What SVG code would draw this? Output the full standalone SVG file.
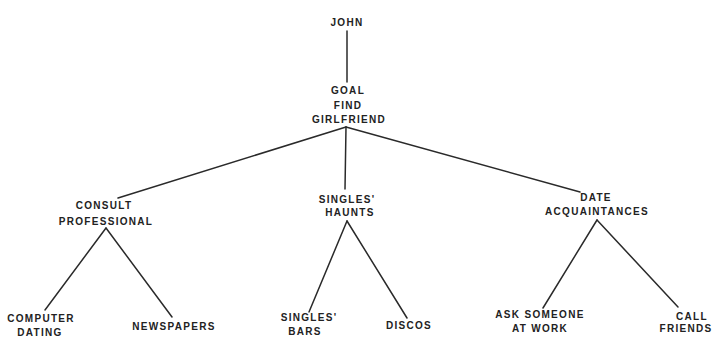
<svg xmlns="http://www.w3.org/2000/svg" width="712" height="338" viewBox="0 0 712 338">
<style>
text{font-family:"Liberation Sans",Arial,sans-serif;font-weight:bold;font-size:10px;fill:#222;text-anchor:middle;letter-spacing:1.3px}
.c line{stroke:#2a2a2a;stroke-width:1.5;stroke-linecap:round}
</style>
<rect width="712" height="338" fill="#fff"/>
<g class="c" id="connectors">
<line x1="347" y1="31" x2="347" y2="82"/>
<line x1="346" y1="127" x2="118" y2="198"/>
<line x1="346" y1="127" x2="345" y2="189"/>
<line x1="346" y1="127" x2="580" y2="192"/>
<line x1="106" y1="228" x2="45" y2="310"/>
<line x1="106" y1="228" x2="172" y2="317"/>
<line x1="347" y1="221" x2="309" y2="312"/>
<line x1="347" y1="221" x2="407" y2="318"/>
<line x1="597" y1="220" x2="543" y2="308"/>
<line x1="597" y1="220" x2="678" y2="307"/>
</g>
<g id="john"><text x="347" y="26">JOHN</text></g>
<g id="goal"><text x="348" y="94">GOAL</text><text x="348" y="109">FIND</text><text x="349" y="123">GIRLFRIEND</text></g>
<g id="consult"><text x="104" y="209">CONSULT</text><text x="106" y="225">PROFESSIONAL</text></g>
<g id="haunts"><text x="347" y="203">SINGLES'</text><text x="350" y="216">HAUNTS</text></g>
<g id="date"><text x="596" y="201">DATE</text><text x="597" y="215">ACQUAINTANCES</text></g>
<g id="computer"><text x="41" y="322">COMPUTER</text><text x="40" y="336">DATING</text></g>
<g id="newspapers"><text x="174" y="330">NEWSPAPERS</text></g>
<g id="bars"><text x="309" y="321">SINGLES'</text><text x="305" y="335">BARS</text></g>
<g id="discos"><text x="409" y="329">DISCOS</text></g>
<g id="ask"><text x="540" y="318">ASK SOMEONE</text><text x="540" y="332">AT WORK</text></g>
<g id="call"><text x="692" y="320">CALL</text><text x="686" y="332">FRIENDS</text></g>
</svg>
